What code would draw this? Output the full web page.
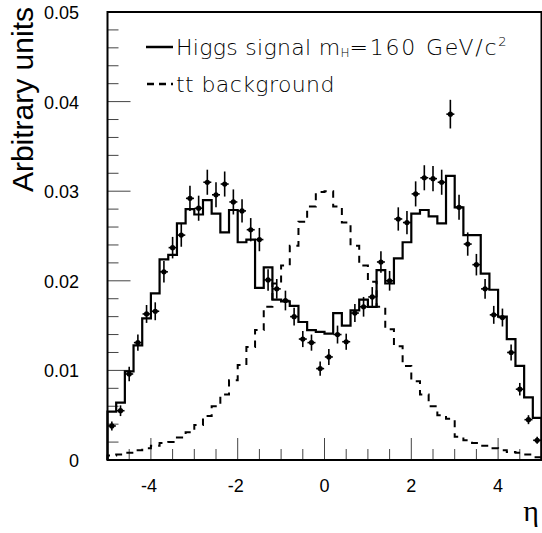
<!doctype html>
<html lang="en">
  <head>
    <meta charset="UTF-8" />
    <title>Higgs signal vs tt background</title>
    <style>
      body {
        margin: 0;
        background: #fff;
      }
      svg {
        display: block;
      }
    </style>
  </head>
  <body>
    <div id="target"></div>
    <script src="https://d3js.org/d3.v7.min.js"></script>
    <script>
      /* global d3 */

      // 50 bins of 0.2 from eta = -5 to 5
      const binEdges = [-5, 5];
      const binCount = 50;

      const signal = [
        0.0054, 0.0064, 0.0099, 0.0128, 0.0158, 0.0186, 0.0224, 0.0229, 0.0264, 0.028,
        0.0274, 0.029, 0.0275, 0.0254, 0.0279, 0.0243, 0.0246, 0.0192, 0.0215, 0.0179,
        0.0177, 0.0172, 0.0154, 0.0145, 0.0143, 0.0141, 0.0164, 0.015, 0.0167, 0.0179,
        0.0171, 0.0212, 0.0197, 0.0225, 0.0243, 0.0275, 0.0279, 0.0272, 0.0264, 0.0317,
        0.0282, 0.0251, 0.0251, 0.0208, 0.019, 0.016, 0.0135, 0.0105, 0.007, 0.0047,
      ];

      const background = [
        0.0005, 0.0006, 0.0008, 0.0011, 0.0013, 0.0016, 0.0019, 0.002, 0.0025, 0.0031,
        0.0039, 0.0049, 0.006, 0.0073, 0.0089, 0.0106, 0.0126, 0.0145, 0.0171, 0.0197,
        0.0217, 0.0239, 0.0266, 0.0283, 0.0299, 0.03, 0.0283, 0.0265, 0.0239, 0.0217,
        0.0199, 0.0171, 0.0146, 0.0127, 0.0105, 0.0088, 0.0073, 0.006, 0.005, 0.0046,
        0.0026, 0.0022, 0.0019, 0.0016, 0.0013, 0.0011, 0.0009, 0.0008, 0.0006, 0.0003,
      ];

      const points = [
        0.0038, 0.0055, 0.0096, 0.0131, 0.0163, 0.0166, 0.021, 0.0237, 0.0251, 0.0292,
        0.0281, 0.031, 0.0296, 0.0308, 0.0288, 0.0278, 0.0257, 0.0246, 0.0201, 0.0191,
        0.0178, 0.016, 0.0135, 0.0131, 0.0102, 0.0115, 0.014, 0.0132, 0.0164, 0.0171,
        0.0182, 0.0221, 0.02, 0.0269, 0.0265, 0.0297, 0.0315, 0.0314, 0.031, 0.0386,
        0.0282, 0.0241, 0.0218, 0.0191, 0.0162, 0.0159, 0.012, 0.0079, 0.0045, 0.0022,
      ];

      const pointErrors = [
        0.0005, 0.0006, 0.0008, 0.0009, 0.001, 0.001, 0.0012, 0.0012, 0.0013, 0.0014,
        0.0014, 0.0014, 0.0014, 0.0014, 0.0014, 0.0013, 0.0013, 0.0013, 0.0012, 0.0011,
        0.0011, 0.001, 0.0009, 0.0009, 0.0008, 0.0009, 0.001, 0.0009, 0.001, 0.0011,
        0.0011, 0.0012, 0.0011, 0.0013, 0.0013, 0.0014, 0.0014, 0.0014, 0.0014, 0.0016,
        0.0014, 0.0013, 0.0012, 0.0011, 0.001, 0.001, 0.0009, 0.0007, 0.0005, 0.0004,
      ];

      const xTicks = [-4, -2, 0, 2, 4];
      const yTicks = [0, 0.01, 0.02, 0.03, 0.04, 0.05];
      const yTickLabels = ["0", "0.01", "0.02", "0.03", "0.04", "0.05"];
      const legendLabels = ["Higgs signal m", "tt background"];

      const width = 542,
        height = 533;
      const margin = { left: 107.5, right: 0.5, top: 12, bottom: 73 };

      const svg = d3
        .select("#target")
        .append("svg")
        .attr("width", width)
        .attr("height", height)
        .attr("viewBox", [0, 0, width, height]);

      const xScale = d3
        .scaleLinear()
        .domain(binEdges)
        .range([margin.left, width - margin.right]);
      const yScale = d3
        .scaleLinear()
        .domain([0, 0.05])
        .range([height - margin.bottom, margin.top]);

      const binWidth = (binEdges[1] - binEdges[0]) / binCount;
      const lo = (i) => binEdges[0] + i * binWidth;
      const mid = (i) => lo(i) + binWidth / 2;

      // stepped outline of a histogram
      function histPath(values) {
        const p = d3.path();
        p.moveTo(xScale(binEdges[0]), yScale(0));
        values.forEach((v, i) => {
          p.lineTo(xScale(lo(i)), yScale(v));
          p.lineTo(xScale(lo(i + 1)), yScale(v));
        });
        p.lineTo(xScale(binEdges[1]), yScale(0));
        return p.toString();
      }

      // ticks, drawn inside the frame
      const tickColor = "#444";
      const minorX = d3.range(-9, 10).map((k) => k * 0.5);
      svg
        .append("g")
        .selectAll("line")
        .data(minorX)
        .join("line")
        .attr("x1", (d) => xScale(d))
        .attr("x2", (d) => xScale(d))
        .attr("y1", yScale(0))
        .attr("y2", (d) => yScale(0) - (d % 2 === 0 ? 22 : 11))
        .attr("stroke", tickColor)
        .attr("stroke-width", 1);

      const minorY = d3.range(1, 25).map((k) => k * 0.002);
      svg
        .append("g")
        .selectAll("line")
        .data(minorY)
        .join("line")
        .attr("x1", xScale(-5))
        .attr("x2", (d, i) => xScale(-5) + ((i + 1) % 5 === 0 ? 23 : 11))
        .attr("y1", (d) => yScale(d))
        .attr("y2", (d) => yScale(d))
        .attr("stroke", tickColor)
        .attr("stroke-width", 1);

      // histograms
      svg
        .append("path")
        .attr("d", histPath(background))
        .attr("fill", "none")
        .attr("stroke", "#000")
        .attr("stroke-width", 2)
        .attr("stroke-dasharray", "7,6");

      svg
        .append("path")
        .attr("d", histPath(signal))
        .attr("fill", "none")
        .attr("stroke", "#000")
        .attr("stroke-width", 2.2);

      // data points with error bars
      const pts = svg
        .append("g")
        .selectAll("g")
        .data(points)
        .join("g")
        .attr("transform", (d, i) => `translate(${xScale(mid(i))},${yScale(d)})`);
      pts
        .append("line")
        .attr("y1", (d, i) => yScale(d + pointErrors[i]) - yScale(d))
        .attr("y2", (d, i) => yScale(d - pointErrors[i]) - yScale(d))
        .attr("stroke", "#000")
        .attr("stroke-width", 1.6);
      pts
        .append("line")
        .attr("x1", -4)
        .attr("x2", 4)
        .attr("stroke", "#000")
        .attr("stroke-width", 1.6);
      pts.append("circle").attr("r", 2.6).attr("fill", "#000");

      // frame
      svg
        .append("rect")
        .attr("x", xScale(-5))
        .attr("y", yScale(0.05))
        .attr("width", xScale(5) - xScale(-5))
        .attr("height", yScale(0) - yScale(0.05))
        .attr("fill", "none")
        .attr("stroke", "#000")
        .attr("stroke-width", 2);

      // tick labels
      const font = "'Liberation Sans', Arial, sans-serif";
      svg
        .append("g")
        .selectAll("text")
        .data(xTicks)
        .join("text")
        .attr("x", (d) => xScale(d) - (d < 0 ? 2 : 0))
        .attr("y", 492)
        .attr("text-anchor", "middle")
        .attr("font-family", font)
        .attr("font-size", 18)
        .text((d) => d);

      svg
        .append("g")
        .selectAll("text")
        .data(yTicks)
        .join("text")
        .attr("x", 79)
        .attr("y", (d) => yScale(d) + 7)
        .attr("text-anchor", "end")
        .attr("font-family", font)
        .attr("font-size", 18)
        .text((d, i) => yTickLabels[i]);

      // axis titles
      svg
        .append("text")
        .attr("transform", "translate(33,7) rotate(-90)")
        .attr("text-anchor", "end")
        .attr("font-family", font)
        .attr("font-size", 30)
        .text("Arbitrary units");

      svg
        .append("text")
        .attr("x", 531)
        .attr("y", 521)
        .attr("text-anchor", "middle")
        .attr("font-family", "'Liberation Serif', 'Times New Roman', serif")
        .attr("font-size", 30)
        .text("η");

      // legend
      const legend = svg.append("g").attr("font-family", "'DejaVu Sans', sans-serif");
      legend
        .append("line")
        .attr("x1", 146)
        .attr("x2", 173)
        .attr("y1", 47)
        .attr("y2", 47)
        .attr("stroke", "#000")
        .attr("stroke-width", 2.5);
      legend
        .append("line")
        .attr("x1", 147)
        .attr("x2", 173)
        .attr("y1", 84)
        .attr("y2", 84)
        .attr("stroke", "#000")
        .attr("stroke-width", 2.5)
        .attr("stroke-dasharray", "7,5");

      const t1 = legend
        .append("text")
        .attr("x", 176)
        .attr("y", 55)
        .attr("font-size", 22)
        .attr("font-weight", 200)
        .attr("fill", "#000");
      t1.append("tspan").attr("letter-spacing", 0.3).text(legendLabels[0]);
      t1.append("tspan").attr("font-size", 12).attr("dy", 2).text("H");
      t1.append("tspan").attr("dy", -2).attr("letter-spacing", 1.8).text("=160 GeV/c");
      t1.append("tspan").attr("font-size", 13).attr("dy", -9).text("2");

      legend
        .append("text")
        .attr("x", 176)
        .attr("y", 92)
        .attr("font-size", 22)
        .attr("font-weight", 200)
        .attr("fill", "#000")
        .attr("letter-spacing", 0.4)
        .text(legendLabels[1]);
    </script>
  </body>
</html>
